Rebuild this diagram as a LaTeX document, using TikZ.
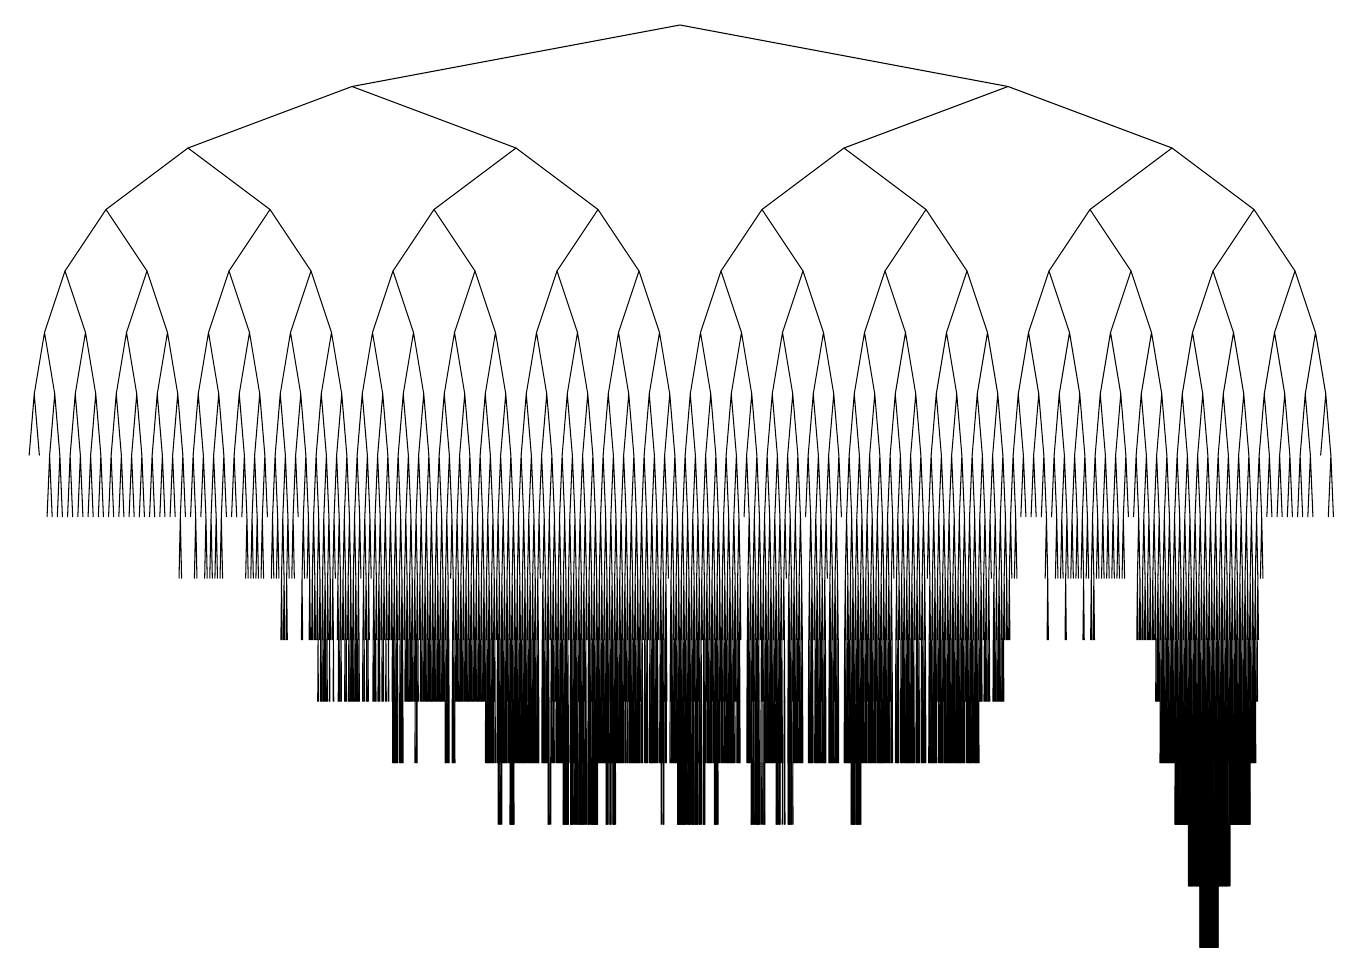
\documentclass[tikz,border=0pt]{standalone}
\newcommand\iv[3]{\ifdim\x>#1pt\relax\ifdim\x<#2pt\relax\def\p{#3}\fi\fi}
% probability that a node at a given level (and x) has children
\def\rulesvii{\iv{45}{1318}{1}\iv{1326}{1340}{1}}
\def\rulesviii{\iv{178}{200}{0.75}\iv{205}{224}{0.85}\iv{230}{234}{0.6}\iv{246}{266}{0.6}%
  \iv{270}{1018}{0.97}\iv{1042}{1124}{0.85}\iv{1135}{1264}{1}}
\def\rulesix{\iv{278}{290}{0.7}\iv{300}{304}{0.6}\iv{308}{1011}{0.96}%
  \iv{1045}{1100}{0.4}\iv{1135}{1258}{1}}
\def\rulesx{\iv{316}{392}{0.65}\iv{392}{1004}{0.95}\iv{1155}{1258}{1}}
\def\rulesxi{\iv{390}{403}{0.85}\iv{415}{420}{0.6}\iv{445}{455}{0.85}%
  \iv{485}{980}{0.88}\iv{1160}{1256}{1}}
\def\rulesxii{\iv{498}{502}{0.7}\iv{510}{514}{0.95}\iv{548}{552}{0.6}\iv{563}{598}{0.85}%
  \iv{606}{616}{0.6}\iv{661}{665}{0.6}\iv{677}{705}{0.7}\iv{714}{718}{0.7}%
  \iv{751}{765}{0.85}\iv{776}{793}{0.6}\iv{851}{861}{0.7}\iv{1175}{1250}{0.97}}
\def\rulesxiii{\iv{1188}{1230}{0.95}}
\def\rulesxiv{\iv{1200}{1218}{1}}
\def\growtree#1#2#3{%
  \def\x{#1}\def\p{0}%
  \ifnum#2<7 \def\p{1}\else\csname rules\romannumeral#2\endcsname\fi
  \pgfmathrnd
  \ifdim\pgfmathresult pt<\p pt\relax
    \edef\xl{\the\dimexpr#1-#3\relax}%
    \edef\xr{\the\dimexpr#1+#3\relax}%
    \edef\yp{\the\dimexpr-25pt-61.5pt*#2\relax}%
    \edef\yc{\the\dimexpr\yp-61.5pt\relax}%
    \edef\no{\the\dimexpr#3/2\relax}%
    \pgfpathmoveto{\pgfqpoint{\xl}{\yc}}%
    \pgfpathlineto{\pgfqpoint{#1}{\yp}}%
    \pgfpathlineto{\pgfqpoint{\xr}{\yc}}%
    \pgfusepath{stroke}%
    \edef\next{\noexpand\growtree{\xl}{\the\numexpr#2+1\relax}{\no}\noexpand\growtree{\xr}{\the\numexpr#2+1\relax}{\no}}%
  \else\let\next\relax\fi
  \next}
\begin{document}
\begin{tikzpicture}
\fill[white] (0pt,0pt) rectangle (1358pt,-966pt);
\useasboundingbox (0pt,0pt) rectangle (1358pt,-966pt);
\pgfmathsetseed{2718}
\begin{pgfscope}
\pgfsetlinewidth{1.05pt}
\pgfsetroundjoin
\pgfsetcolor{black}
\growtree{680pt}{0}{328pt}
\end{pgfscope}
\end{tikzpicture}
\end{document}
